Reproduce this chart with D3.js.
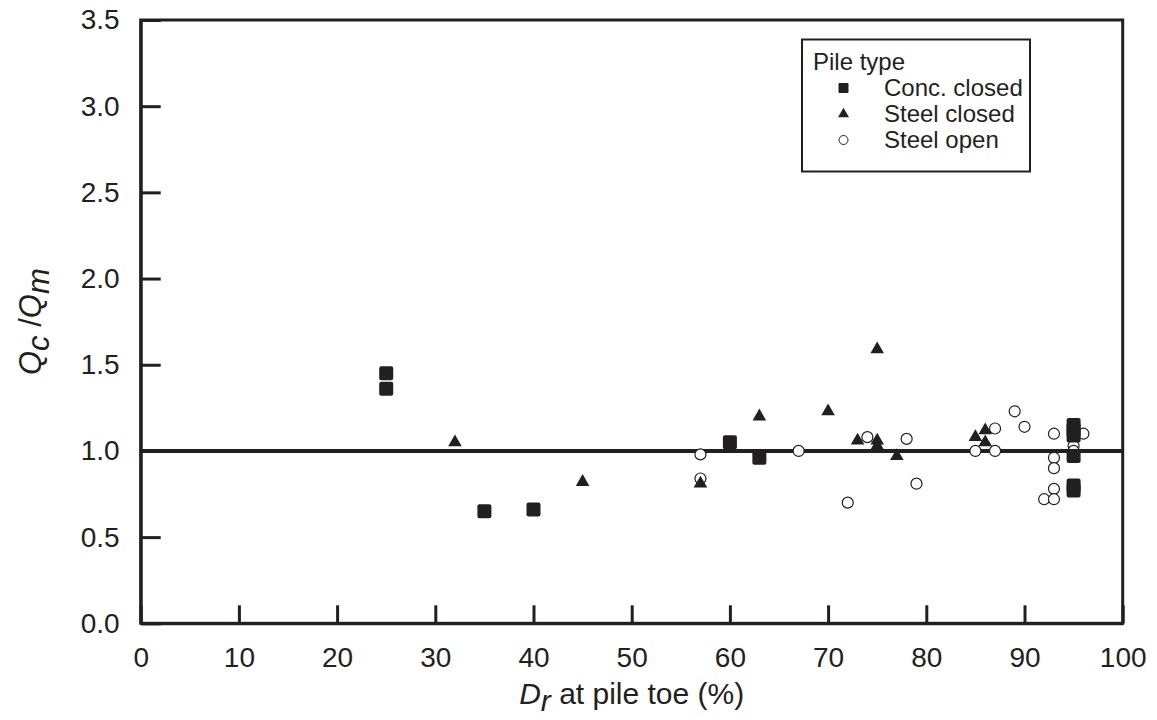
<!DOCTYPE html>
<html>
<head>
<meta charset="utf-8">
<script src="https://cdn.jsdelivr.net/npm/d3@7"></script>
<style>
  body { margin: 0; background: #fff; }
  svg { font-family: "Liberation Sans", Arial, sans-serif; }
</style>
</head>
<body>
<div id="chart"></div>
<script>
// values
const concClosedX = [25, 25, 35, 40, 60, 63, 95, 95, 95, 95, 95, 95];
const concClosedY = [1.45, 1.36, 0.65, 0.66, 1.05, 0.96, 1.15, 1.12, 1.09, 0.97, 0.80, 0.77];

const steelClosedX = [32, 45, 57, 63, 70, 73, 75, 75, 75, 77, 85, 86, 86];
const steelClosedY = [1.05, 0.82, 0.81, 1.20, 1.23, 1.06, 1.59, 1.06, 1.03, 0.97, 1.08, 1.12, 1.05];

const steelOpenX = [57, 57, 67, 72, 74, 78, 79, 85, 87, 87, 89, 90, 92, 93, 93, 93, 93, 93, 95, 95, 96];
const steelOpenY = [0.98, 0.84, 1.00, 0.70, 1.08, 1.07, 0.81, 1.00, 1.13, 1.00, 1.23, 1.14, 0.72, 1.10, 0.96, 0.90, 0.78, 0.72, 1.03, 1.00, 1.10];

const xTicks = [0, 10, 20, 30, 40, 50, 60, 70, 80, 90, 100];
const yTicks = [0, 0.5, 1.0, 1.5, 2.0, 2.5, 3.0, 3.5];
const refLineY = 1.0;
const legendLabels = ['Conc. closed', 'Steel closed', 'Steel open'];

const ink = '#231f20';
const width = 1157, height = 720;
const margin = { left: 140.7, right: 1157 - 1122.7, top: 20, bottom: 720 - 623.3 };

const svg = d3.select('#chart').append('svg')
  .attr('width', width)
  .attr('height', height);

const x = d3.scaleLinear().domain([0, 100]).range([margin.left, width - margin.right]);
const y = d3.scaleLinear().domain([0, 3.5]).range([height - margin.bottom, margin.top]);

// frame
svg.append('rect')
  .attr('x', x(0)).attr('y', y(3.5))
  .attr('width', x(100) - x(0)).attr('height', y(0) - y(3.5))
  .attr('fill', 'none').attr('stroke', ink).attr('stroke-width', 3);

// axes, ticks pointing inward
const xAxis = svg.append('g')
  .attr('transform', 'translate(0,' + y(0) + ')')
  .call(d3.axisBottom(x).tickValues(xTicks).tickSizeInner(-18).tickSizeOuter(0).tickPadding(24).tickFormat(d3.format('d')));

const yAxis = svg.append('g')
  .attr('transform', 'translate(' + x(0) + ',0)')
  .call(d3.axisLeft(y).tickValues(yTicks).tickSizeInner(-20).tickSizeOuter(0).tickPadding(21).tickFormat(d3.format('.1f')));

[xAxis, yAxis].forEach((g) => {
  g.select('.domain').attr('stroke', ink).attr('stroke-width', 3);
  g.selectAll('.tick line').attr('stroke', ink).attr('stroke-width', 3);
  g.selectAll('.tick text').attr('fill', ink).style('font-size', '28px')
    .style('font-family', '"Liberation Sans", Arial, sans-serif');
});

// Qc/Qm = 1 line
svg.append('line')
  .attr('x1', x(0)).attr('x2', x(100))
  .attr('y1', y(refLineY)).attr('y2', y(refLineY))
  .attr('stroke', ink).attr('stroke-width', 4);

// points
const openPts = steelOpenX.map((d, i) => ({ x: d, y: steelOpenY[i] }));
const triPts = steelClosedX.map((d, i) => ({ x: d, y: steelClosedY[i] }));
const sqPts = concClosedX.map((d, i) => ({ x: d, y: concClosedY[i] }));

svg.append('g').selectAll('circle')
  .data(openPts)
  .enter().append('circle')
  .attr('cx', (d) => x(d.x)).attr('cy', (d) => y(d.y))
  .attr('r', 5.5)
  .attr('fill', '#fff').attr('stroke', ink).attr('stroke-width', 1.2);

const tri = d3.symbol().type(d3.symbolTriangle).size(80);
svg.append('g').selectAll('path')
  .data(triPts)
  .enter().append('path')
  .attr('transform', (d) => 'translate(' + x(d.x) + ',' + y(d.y) + ')')
  .attr('d', tri)
  .attr('fill', ink);

const sq = 14;
svg.append('g').selectAll('rect')
  .data(sqPts)
  .enter().append('rect')
  .attr('x', (d) => x(d.x) - sq / 2).attr('y', (d) => y(d.y) - sq / 2)
  .attr('width', sq).attr('height', sq).attr('rx', 2)
  .attr('fill', ink);

// legend
const lg = svg.append('g');
lg.append('rect')
  .attr('x', 802).attr('y', 39.5).attr('width', 228).attr('height', 132)
  .attr('fill', '#fff').attr('stroke', ink).attr('stroke-width', 2);
lg.append('text')
  .attr('x', 813).attr('y', 70)
  .style('font-size', '24px').attr('fill', ink)
  .text('Pile type');

legendLabels.forEach((label, i) => {
  const ly = 96 + i * 26;
  const cy = ly - 8;
  if (i === 0) {
    lg.append('rect').attr('x', 843.5 - 5).attr('y', cy - 5).attr('width', 10).attr('height', 10)
      .attr('rx', 1).attr('fill', ink);
  } else if (i === 1) {
    lg.append('path').attr('transform', 'translate(843.5,' + cy + ')')
      .attr('d', d3.symbol().type(d3.symbolTriangle).size(52)).attr('fill', ink);
  } else {
    lg.append('circle').attr('cx', 843.5).attr('cy', cy).attr('r', 4.5)
      .attr('fill', '#fff').attr('stroke', ink).attr('stroke-width', 1);
  }
  lg.append('text')
    .attr('x', 884).attr('y', ly)
    .style('font-size', '24px').attr('fill', ink)
    .text(label);
});

// axis titles
const xt = svg.append('text')
  .attr('x', (x(0) + x(100)) / 2).attr('y', 704)
  .attr('text-anchor', 'middle')
  .style('font-size', '30px').attr('fill', ink);
xt.append('tspan').style('font-style', 'italic').text('D');
xt.append('tspan').style('font-style', 'italic').attr('dy', 7).text('r');
xt.append('tspan').attr('dy', -7).text(' at pile toe (%)');

const yt = svg.append('text')
  .attr('transform', 'translate(41,' + (y(0) + y(3.5)) / 2 + ') rotate(-90)')
  .attr('text-anchor', 'middle')
  .style('font-size', '31px').attr('fill', ink);
yt.append('tspan').style('font-style', 'italic').text('Q');
yt.append('tspan').style('font-style', 'italic').attr('dy', 8).text('c');
yt.append('tspan').attr('dy', -8).text(' /');
yt.append('tspan').style('font-style', 'italic').text('Q');
yt.append('tspan').style('font-style', 'italic').attr('dy', 8).text('m');
</script>
</body>
</html>
